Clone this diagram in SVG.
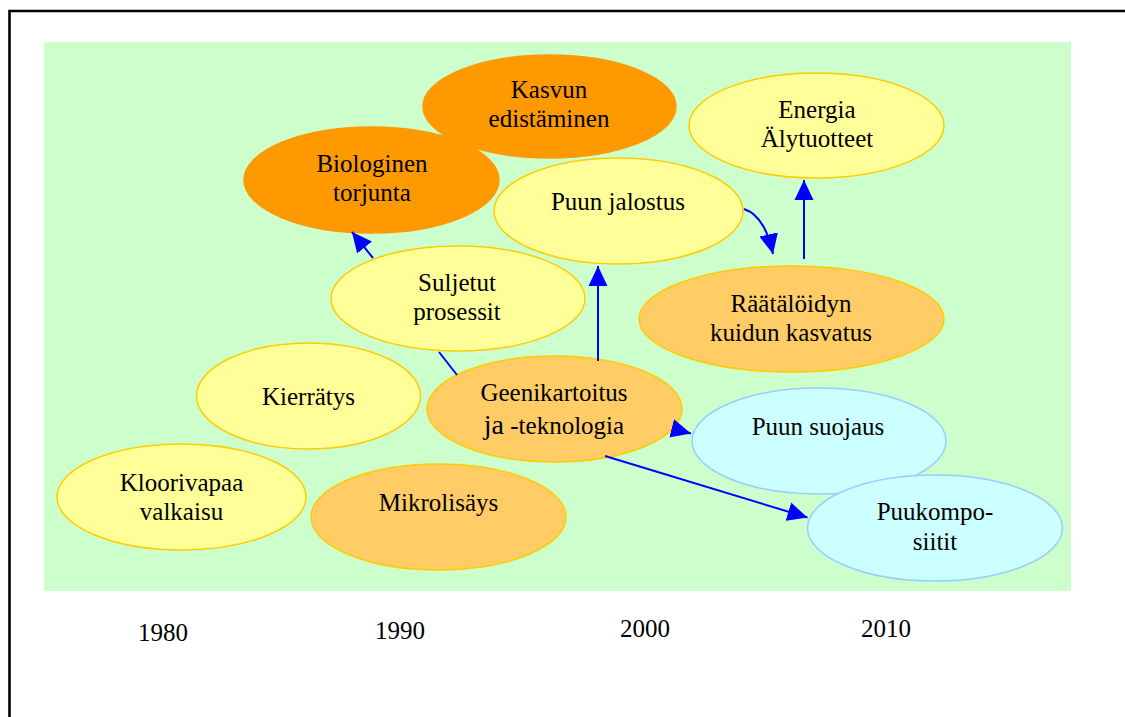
<svg xmlns="http://www.w3.org/2000/svg" width="1125" height="717" viewBox="0 0 1125 717">
<style>
text{font-family:"Liberation Serif","Times New Roman",serif;font-size:25px;fill:#000;text-anchor:middle}
.dark{fill:#FF9900;stroke:#FF9900;stroke-width:1.5}
.lo{fill:#FFCC66;stroke:#FFCC00;stroke-width:1.5}
.ye{fill:#FFFF99;stroke:#FFCC00;stroke-width:1.5}
.cy{fill:#CCFFFF;stroke:#99CCFF;stroke-width:1.5}
.conn{fill:none;stroke:#0000FF;stroke-width:2;marker-end:url(#ah)}
.plain{fill:none;stroke:#0000FF;stroke-width:2}
</style>
<defs>
<marker id="ah" markerUnits="userSpaceOnUse" markerWidth="20" markerHeight="20" refX="20" refY="9.5" orient="auto" viewBox="0 0 20 19">
<path d="M0,0 L20,9.5 L0,19 z" fill="#0000FF"/>
</marker>
</defs>
<rect x="0" y="0" width="1125" height="717" fill="#FFFFFF"/>
<path d="M9.5,717 L9.5,11 L1125,11" fill="none" stroke="#000" stroke-width="2.6"/>
<rect x="44" y="42" width="1027" height="549" fill="#CCFFCC"/>

<g id="kasvun"><ellipse class="dark" cx="549.5" cy="106.5" rx="126.5" ry="51.5"/><text x="549" y="98">Kasvun</text><text x="549" y="127">edistäminen</text></g>
<g id="biologinen"><ellipse class="dark" cx="371.5" cy="180" rx="127.5" ry="53"/><text x="372" y="172">Biologinen</text><text x="372" y="201">torjunta</text></g>
<g id="puun-jalostus"><ellipse class="ye" cx="618.5" cy="211" rx="124.5" ry="53"/><text x="618" y="210">Puun jalostus</text></g>
<g id="energia"><ellipse class="ye" cx="816.5" cy="125.5" rx="127.5" ry="52.5"/><text x="817" y="118">Energia</text><text x="817" y="147">Älytuotteet</text></g>
<g id="suljetut"><ellipse class="ye" cx="458" cy="298.5" rx="127" ry="52.5"/><text x="457" y="291">Suljetut</text><text x="457" y="320">prosessit</text></g>
<g id="raatalo"><ellipse class="lo" cx="791.5" cy="319" rx="152.5" ry="53"/><text x="791" y="312">Räätälöidyn</text><text x="791" y="341">kuidun kasvatus</text></g>
<g id="kierratys"><ellipse class="ye" cx="308.5" cy="396" rx="112" ry="53"/><text x="308.5" y="405">Kierrätys</text></g>
<g id="geeni"><ellipse class="lo" cx="554.5" cy="409" rx="127.5" ry="53"/><text x="554" y="401">Geenikartoitus</text><text x="554" y="434"><tspan style="font-size:28px">ja</tspan> -teknologia</text></g>
<g id="puun-suojaus"><ellipse class="cy" cx="819" cy="441" rx="127" ry="53"/><text x="818" y="435">Puun suojaus</text></g>
<g id="kloori"><ellipse class="ye" cx="181.5" cy="497" rx="124.5" ry="53"/><text x="181.5" y="491">Kloorivapaa</text><text x="181.5" y="520">valkaisu</text></g>
<g id="mikro"><ellipse class="lo" cx="438.5" cy="517" rx="127.5" ry="53"/><text x="438.5" y="511">Mikrolisäys</text></g>
<g id="puukomp"><ellipse class="cy" cx="935" cy="528" rx="127.5" ry="53"/><text x="935" y="520">Puukompo-</text><text x="935" y="550">siitit</text></g>

<g id="connectors">
<path class="plain" d="M457,375 L439,352"/>
<path class="conn" d="M373,258 L352,232"/>
<path class="conn" d="M598,361 L598,266"/>
<path class="conn" d="M672,428.5 L691,433.5"/>
<path class="conn" d="M605,456 L807.5,517.5"/>
<path class="conn" d="M744,209 C762,215 769,236 773,254"/>
<path class="conn" d="M804,259 L804,180"/>
</g>

<g id="years">
<text x="163" y="641">1980</text>
<text x="400" y="639">1990</text>
<text x="645" y="637">2000</text>
<text x="886" y="637">2010</text>
</g>
</svg>
